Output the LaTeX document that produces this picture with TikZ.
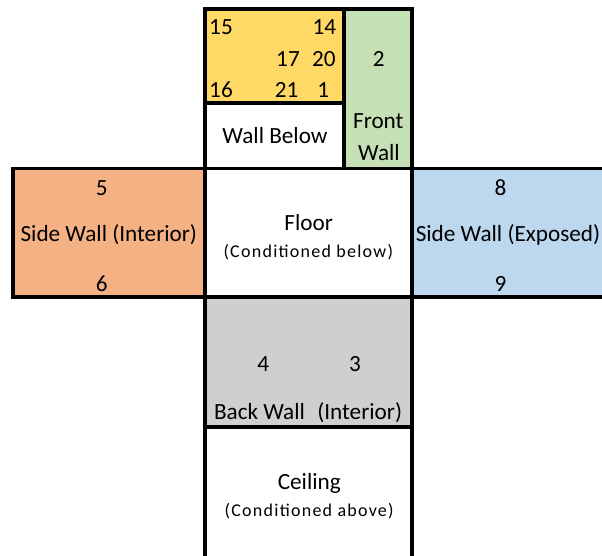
\documentclass[tikz,border=0pt]{standalone}
\usepackage{fontspec}
\setmainfont{Carlito}
\newfontfamily\smallfont[LetterSpace=7]{Carlito}
\definecolor{cyellow}{HTML}{FFD966}
\definecolor{cgreen}{HTML}{C5E0B4}
\definecolor{corange}{HTML}{F4B183}
\definecolor{cblue}{HTML}{BDD7EE}
\definecolor{cgray}{HTML}{D0CECE}
\begin{document}
\begin{tikzpicture}[x=1pt,y=-1pt,
  box/.style={draw=black, line width=3.3pt, inner sep=0pt, outer sep=0pt},
  lbl/.style={font=\fontsize{23.2}{27}\selectfont, inner sep=0pt, anchor=base},
  sub/.style={font=\smallfont\fontsize{18}{21}\selectfont, inner sep=0pt, anchor=base}]
\useasboundingbox (0,0) rectangle (602,555);
% regions
\node[box, fill=cyellow, minimum width=139pt, minimum height=94pt] (yellow) at (274.5,56) {};
\node[box, fill=white, minimum width=139pt, minimum height=65.5pt] (wallbelow) at (274.5,135.75) {};
\node[box, fill=cgreen, minimum width=68pt, minimum height=159.5pt] (front) at (378,88.75) {};
\node[box, fill=corange, minimum width=192pt, minimum height=128.5pt] (left) at (109,232.75) {};
\node[box, fill=cblue, minimum width=198pt, minimum height=128.5pt] (right) at (511,232.75) {};
\node[box, fill=white, minimum width=207pt, minimum height=128.5pt] (floor) at (308.5,232.75) {};
\node[box, fill=cgray, minimum width=207pt, minimum height=130pt] (back) at (308.5,362) {};
\node[box, fill=white, minimum width=207pt, minimum height=138pt] (ceiling) at (308.5,496) {};
% labels top
\node[lbl] (n15) at (221,34) {15};
\node[lbl] (n14) at (324.3,34) {14};
\node[lbl] (n17) at (288,66) {17};
\node[lbl] (n20) at (323.8,66) {20};
\node[lbl] (n16) at (221,97.7) {16};
\node[lbl] (n21) at (286.7,97.7) {21};
\node[lbl] (n1) at (323.3,97.7) {1};
\node[lbl] (n2) at (378.7,66) {2};
\node[lbl] (twb) at (275,143.3) {Wall Below};
\node[lbl] (tfront) at (378.3,128.3) {Front};
\node[lbl] (twall) at (379,160) {Wall};
% left
\node[lbl] (n5) at (101.7,195) {5};
\node[lbl] (tsi) at (108.8,241.7) {Side Wall (Interior)};
\node[lbl] (n6) at (101.7,291) {6};
% right
\node[lbl] (n8) at (500.5,195) {8};
\node[lbl] (tse) at (508,241.7) {Side Wall (Exposed)};
\node[lbl] (n9) at (500.5,291) {9};
% floor
\node[lbl] (tfloor) at (308.7,230) {Floor};
\node[sub] (tcb) at (308.3,257.7) {(Conditioned below)};
% back
\node[lbl] (n4) at (263.3,371) {4};
\node[lbl] (n3) at (355,371) {3};
\node[lbl] (tbw) at (259.5,419.3) {Back Wall};
\node[lbl] (tint) at (359.7,419.3) {(Interior)};
% ceiling
\node[lbl] (tceil) at (309.3,489.3) {Ceiling};
\node[sub] (tca) at (309.2,516.7) {(Conditioned above)};
\end{tikzpicture}
\end{document}
